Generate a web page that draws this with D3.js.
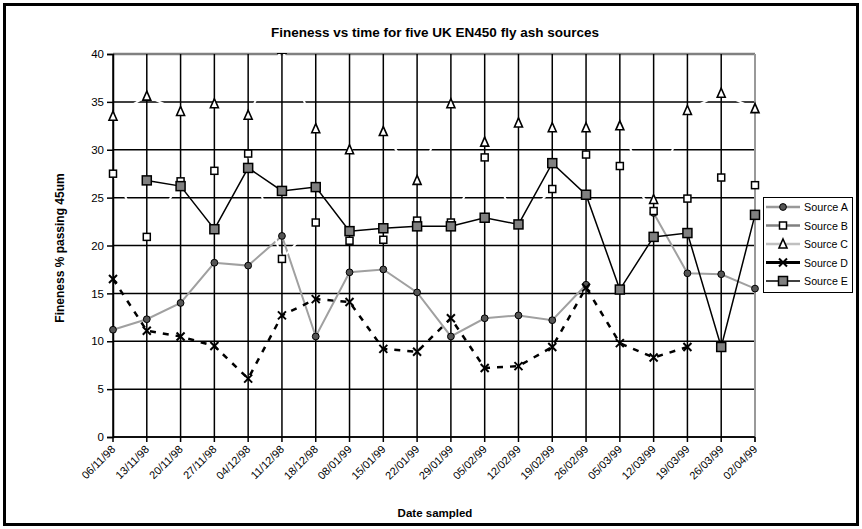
<!DOCTYPE html>
<html>
<head>
<meta charset="utf-8">
<script src="https://cdn.jsdelivr.net/npm/d3@7"></script>
<style>
  html, body { margin: 0; padding: 0; background: #fff; }
  svg { display: block; font-family: "Liberation Sans", Arial, sans-serif; }
  text { fill: #000; }
</style>
</head>
<body>
<svg id="chart" width="862" height="529"></svg>
<script>
const categories = ["06/11/98","13/11/98","20/11/98","27/11/98","04/12/98","11/12/98","18/12/98","08/01/99","15/01/99","22/01/99","29/01/99","05/02/99","12/02/99","19/02/99","26/02/99","05/03/99","12/03/99","19/03/99","26/03/99","02/04/99"];
const sourceA = [11.2,12.3,14.0,18.2,17.9,21.0,10.5,17.2,17.5,15.1,10.5,12.4,12.7,12.2,15.9,null,23.4,17.1,17.0,15.5];
const sourceB = [27.5,20.9,26.7,27.8,29.6,18.6,22.4,20.5,20.6,22.6,22.4,29.2,22.2,25.9,29.5,28.3,23.6,24.9,27.1,26.3];
const sourceC = [33.5,35.6,34.0,34.8,33.6,40.5,32.2,30.0,31.9,26.8,34.8,30.8,32.8,32.3,32.3,32.5,24.8,34.1,35.9,34.3];
const sourceD = [16.5,11.1,10.5,9.5,6.1,12.7,14.4,14.1,9.2,8.9,12.4,7.2,7.4,9.4,15.6,9.8,8.3,9.4,null,null];
const sourceE = [null,26.8,26.2,21.7,28.1,25.7,26.1,21.5,21.8,22.0,22.0,22.9,22.2,28.6,25.3,15.4,20.9,21.3,9.4,23.2];
const yTicks = [0,5,10,15,20,25,30,35,40];
const seriesNames = ["Source A","Source B","Source C","Source D","Source E"];

const svg = d3.select("#chart");
const L = 113, R = 755, T = 54, B = 437;

// outer frame
svg.append("rect").attr("x", 4.5).attr("y", 4.5).attr("width", 853).attr("height", 520)
  .attr("fill", "none").attr("stroke", "#000").attr("stroke-width", 3);

const x = d3.scalePoint().domain(categories).range([L, R]);
const y = d3.scaleLinear().domain([0, 40]).range([B, T]);

// title
svg.append("text").attr("x", 435).attr("y", 37).attr("text-anchor", "middle")
  .attr("font-size", 13.5).attr("font-weight", "bold").text("Fineness vs time for five UK EN450 fly ash sources");

// horizontal gridlines
svg.append("g").selectAll("line").data(yTicks).join("line")
  .attr("x1", L).attr("x2", R).attr("y1", d => y(d)).attr("y2", d => y(d))
  .attr("stroke", d => d === 40 ? "#808080" : "#000").attr("stroke-width", d => d === 40 ? 2.5 : 1.5);

// vertical gridlines (with ticks below axis)
svg.append("g").selectAll("line").data(categories).join("line")
  .attr("x1", d => x(d)).attr("x2", d => x(d)).attr("y1", T).attr("y2", B + 5)
  .attr("stroke", (d, i) => i === categories.length - 1 ? "#999" : "#000")
  .attr("stroke-width", (d, i) => i === categories.length - 1 ? 2 : 1.5);
svg.append("line").attr("x1", R).attr("x2", R).attr("y1", B).attr("y2", B + 5).attr("stroke", "#000").attr("stroke-width", 1.5);

// y axis
const yAxis = d3.axisLeft(y).tickValues(yTicks).tickSize(6).tickPadding(3);
const gy = svg.append("g").attr("transform", `translate(${L},0)`).call(yAxis);
gy.select(".domain").attr("stroke", "#000").attr("stroke-width", 1.5);
gy.selectAll(".tick line").attr("stroke", "#000").attr("stroke-width", 1.5);
gy.selectAll(".tick text").attr("font-size", 11.5).attr("font-family", "Liberation Sans, Arial, sans-serif").attr("fill", "#000");

// x axis line
svg.append("line").attr("x1", L).attr("x2", R).attr("y1", B).attr("y2", B).attr("stroke", "#000").attr("stroke-width", 1.5);

// x labels
svg.append("g").selectAll("text").data(categories).join("text")
  .attr("transform", d => `translate(${x(d) + 3},${B + 13}) rotate(-45)`)
  .attr("text-anchor", "end").attr("font-size", 11).attr("fill", "#000").text(d => d);

// axis titles
svg.append("text").attr("x", 435).attr("y", 517).attr("text-anchor", "middle")
  .attr("font-size", 11.5).attr("font-weight", "bold").text("Date sampled");
svg.append("text").attr("transform", "translate(64,248) rotate(-90)").attr("text-anchor", "middle")
  .attr("font-size", 12).attr("font-weight", "bold").text("Fineness % passing 45um");

// clip
svg.append("clipPath").attr("id", "clip").append("rect")
  .attr("x", L - 15).attr("y", T - 1).attr("width", R - L + 30).attr("height", B - T + 15);
const plot = svg.append("g").attr("clip-path", "url(#clip)");

const lineGen = d3.line().defined(d => d.v !== null).x(d => x(d.c)).y(d => y(d.v));
const toPts = arr => arr.map((v, i) => ({ c: categories[i], v }));

const styles = [
  { data: sourceA, line: "#a0a0a0", lw: 2, dash: null, legendLine: "#999999", marker: "circle", fill: "#555", size: 3.4 },
  { data: sourceB, line: "#ffffff", lw: 2, dash: null, legendLine: "#808080", marker: "square", fill: "#fff", size: 7 },
  { data: sourceC, line: "#ffffff", lw: 2, dash: null, legendLine: "#c0c0c0", marker: "triangle", fill: "#fff", size: 8 },
  { data: sourceD, line: "#000000", lw: 2.5, dash: "6,7", legendLine: "#000", marker: "x", fill: "none", size: 8 },
  { data: sourceE, line: "#000000", lw: 1.5, dash: null, legendLine: "#000", marker: "square", fill: "#808080", size: 9 }
];

function drawMarker(g, type, cx, cy, s) {
  if (type === "circle") {
    g.append("circle").attr("cx", cx).attr("cy", cy).attr("r", s.size).attr("fill", s.fill).attr("stroke", "#000").attr("stroke-width", 1);
  } else if (type === "square") {
    g.append("rect").attr("x", cx - s.size / 2).attr("y", cy - s.size / 2).attr("width", s.size).attr("height", s.size)
      .attr("fill", s.fill).attr("stroke", "#000").attr("stroke-width", 1.5);
  } else if (type === "triangle") {
    const h = s.size;
    g.append("path").attr("d", `M${cx},${cy - h / 2 - 1}L${cx + h / 2},${cy + h / 2}L${cx - h / 2},${cy + h / 2}Z`)
      .attr("fill", s.fill).attr("stroke", "#000").attr("stroke-width", 1.6);
  } else if (type === "x") {
    const r = s.size / 2;
    g.append("path").attr("d", `M${cx - r},${cy - r}L${cx + r},${cy + r}M${cx - r},${cy + r}L${cx + r},${cy - r}`)
      .attr("stroke", "#000").attr("stroke-width", 2).attr("fill", "none");
  }
}

styles.forEach(s => {
  const pts = toPts(s.data);
  const g = plot.append("g");
  g.append("path").datum(pts).attr("d", lineGen).attr("fill", "none")
    .attr("stroke", s.line).attr("stroke-width", s.lw).attr("stroke-dasharray", s.dash);
  pts.filter(p => p.v !== null).forEach(p => drawMarker(g, s.marker, x(p.c), y(p.v), s));
});

// legend
const lg = svg.append("g");
lg.append("rect").attr("x", 763.5).attr("y", 197.5).attr("width", 89).attr("height", 95)
  .attr("fill", "#fff").attr("stroke", "#000").attr("stroke-width", 1);
const legendY = d3.scalePoint().domain(seriesNames).range([207, 281]);
seriesNames.forEach((n, i) => {
  const s = styles[i];
  const cy = legendY(n);
  lg.append("line").attr("x1", 766).attr("x2", 800).attr("y1", cy).attr("y2", cy)
    .attr("stroke", s.legendLine).attr("stroke-width", i === 3 ? 3 : (i === 4 ? 1.5 : 2.5));
  drawMarker(lg, s.marker, 783, cy, s);
  lg.append("text").attr("x", 804).attr("y", cy + 4).attr("font-size", 10.5).attr("textLength", 44)
    .attr("lengthAdjust", "spacingAndGlyphs").text(n);
});
</script>
</body>
</html>
